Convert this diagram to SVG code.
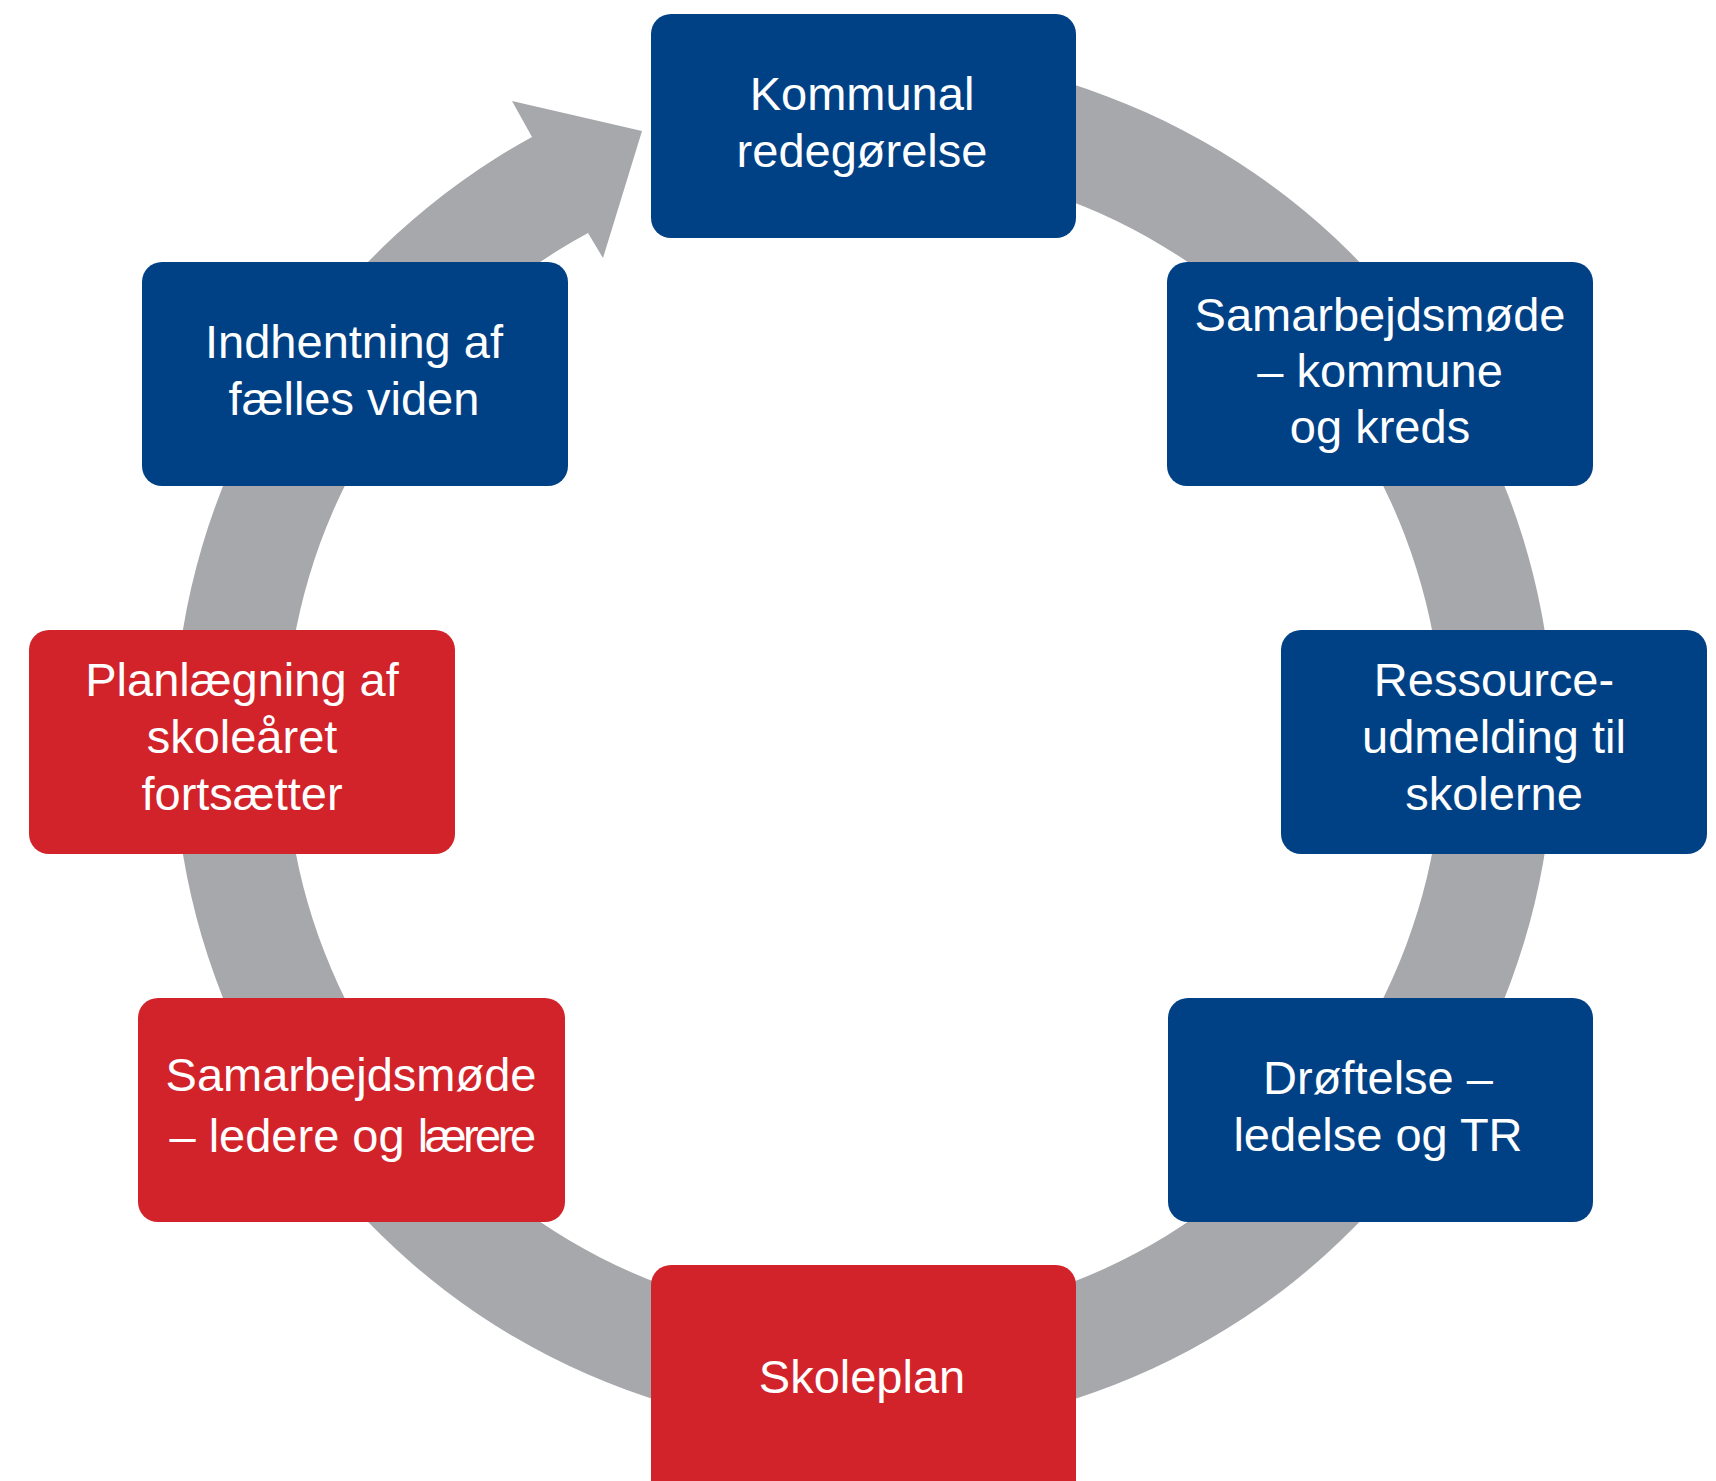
<svg xmlns="http://www.w3.org/2000/svg" width="1716" height="1481" viewBox="0 0 1716 1481">
<style>
.blue{fill:#004186}
.red{fill:#D2232A}
.ring{fill:#A7A8AC}
text{font-family:"Liberation Sans",Arial,sans-serif;font-size:47px;fill:#ffffff;text-anchor:middle}
</style>
<rect width="1716" height="1481" fill="#ffffff"/>
<g id="connectors">
<path class="ring" d="M 864 52 A 690 690 0 1 1 532 137 L 512 101 L 642 131 L 603 258 L 588 233 A 579 579 0 1 0 864 163 Z"/>
</g>
<g id="node-kommunal">
<rect class="blue" x="651" y="14" width="425" height="224" rx="20"/>
<text x="862" y="110">Kommunal</text>
<text x="862" y="167">redegørelse</text>
</g>
<g id="node-samarb-kommune">
<rect class="blue" x="1167" y="262" width="426" height="224" rx="20"/>
<text x="1380" y="331">Samarbejdsmøde</text>
<text x="1380" y="387">– kommune</text>
<text x="1380" y="443">og kreds</text>
</g>
<g id="node-ressource">
<rect class="blue" x="1281" y="630" width="426" height="224" rx="20"/>
<text x="1494" y="696">Ressource-</text>
<text x="1494" y="753">udmelding til</text>
<text x="1494" y="810">skolerne</text>
</g>
<g id="node-droeftelse">
<rect class="blue" x="1168" y="998" width="425" height="224" rx="20"/>
<text x="1378" y="1094">Drøftelse –</text>
<text x="1378" y="1151">ledelse og TR</text>
</g>
<g id="node-skoleplan">
<rect class="red" x="651" y="1265" width="425" height="240" rx="20"/>
<text x="862" y="1393">Skoleplan</text>
</g>
<g id="node-samarb-ledere">
<rect class="red" x="138" y="998" width="427" height="224" rx="20"/>
<text x="351" y="1091">Samarbejdsmøde</text>
<text x="351" y="1152">– ledere og <tspan letter-spacing="-3.5">lærere</tspan></text>
</g>
<g id="node-planlaegning">
<rect class="red" x="29" y="630" width="426" height="224" rx="20"/>
<text x="242" y="696">Planlægning af</text>
<text x="242" y="753">skoleåret</text>
<text x="242" y="810">fortsætter</text>
</g>
<g id="node-indhentning">
<rect class="blue" x="142" y="262" width="426" height="224" rx="20"/>
<text x="354" y="358">Indhentning af</text>
<text x="354" y="415">fælles viden</text>
</g>
</svg>
